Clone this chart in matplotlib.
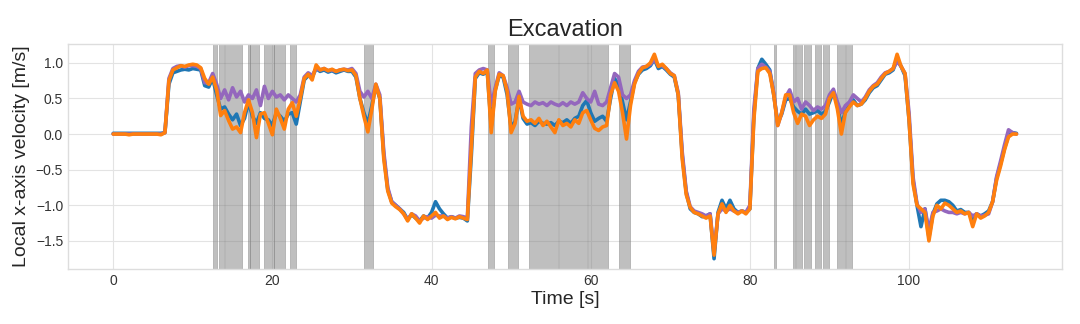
import matplotlib
matplotlib.use("Agg")
import matplotlib.pyplot as plt
import numpy as np

# time axis, 0.5 s sampling
time = np.arange(0, 113.51, 0.5)

# velocity estimates (one row = 10 s)
v_blue = [
    0.01, 0.01, 0.01, 0.01, 0.01, 0.01, 0.01, 0.01, 0.01, 0.01, 0.01, 0.01, 0.01, 0.02, 0.70, 0.86, 0.88, 0.90, 0.91, 0.90,
    0.92, 0.91, 0.90, 0.68, 0.66, 0.78, 0.55, 0.35, 0.38, 0.28, 0.20, 0.28, 0.12, 0.22, 0.45, 0.25, 0.15, 0.30, 0.22, 0.20,
    0.12, 0.30, 0.25, 0.18, 0.28, 0.30, 0.14, 0.45, 0.76, 0.82, 0.80, 0.92, 0.88, 0.90, 0.87, 0.89, 0.86, 0.88, 0.90, 0.88,
    0.88, 0.80, 0.50, 0.30, 0.14, 0.40, 0.68, 0.50, -0.30, -0.78, -0.95, -1.00, -1.05, -1.10, -1.20, -1.13, -1.18, -1.22, -1.15, -1.18,
    -1.10, -0.95, -1.05, -1.12, -1.18, -1.16, -1.18, -1.17, -1.18, -1.22, -0.30, 0.78, 0.86, 0.84, 0.88, 0.10, 0.62, 0.82, 0.80, 0.55,
    0.08, 0.18, 0.50, 0.22, 0.14, 0.16, 0.12, 0.18, 0.15, 0.14, 0.16, 0.12, 0.18, 0.16, 0.20, 0.15, 0.22, 0.25, 0.40, 0.47,
    0.30, 0.18, 0.22, 0.25, 0.18, 0.50, 0.78, 0.70, 0.45, 0.20, 0.45, 0.72, 0.84, 0.90, 0.92, 0.96, 1.05, 0.92, 0.95, 0.90,
    0.84, 0.80, 0.55, -0.30, -0.82, -1.05, -1.10, -1.12, -1.16, -1.15, -1.12, -1.75, -1.10, -0.93, -1.05, -0.93, -1.05, -1.10, -1.08, -1.10,
    -1.05, 0.25, 0.92, 1.05, 0.98, 0.90, 0.55, 0.16, 0.28, 0.48, 0.50, 0.38, 0.32, 0.28, 0.35, 0.28, 0.30, 0.33, 0.28, 0.32,
    0.45, 0.60, 0.40, 0.12, 0.32, 0.40, 0.48, 0.40, 0.42, 0.48, 0.58, 0.65, 0.68, 0.76, 0.84, 0.86, 0.90, 1.05, 0.95, 0.82,
    0.20, -0.65, -1.00, -1.30, -1.05, -1.45, -1.12, -0.98, -0.93, -0.93, -0.95, -1.00, -1.08, -1.06, -1.10, -1.10, -1.22, -1.12, -1.15, -1.12,
    -1.08, -0.95, -0.62, -0.42, -0.20, -0.02, 0.02, 0.01,
]

v_purple = [
    0.00, 0.00, 0.00, 0.00, 0.00, 0.00, 0.00, 0.00, 0.00, 0.00, 0.00, 0.00, 0.00, 0.02, 0.78, 0.92, 0.95, 0.96, 0.94, 0.96,
    0.96, 0.95, 0.92, 0.72, 0.72, 0.85, 0.70, 0.50, 0.62, 0.48, 0.65, 0.52, 0.60, 0.45, 0.55, 0.50, 0.62, 0.40, 0.67, 0.50,
    0.60, 0.52, 0.55, 0.48, 0.55, 0.50, 0.45, 0.55, 0.80, 0.86, 0.82, 0.92, 0.90, 0.92, 0.89, 0.90, 0.88, 0.90, 0.91, 0.90,
    0.92, 0.85, 0.60, 0.52, 0.60, 0.50, 0.70, 0.55, -0.25, -0.75, -0.95, -1.00, -1.05, -1.12, -1.20, -1.12, -1.15, -1.22, -1.18, -1.16,
    -1.18, -1.14, -1.15, -1.15, -1.18, -1.16, -1.18, -1.15, -1.16, -1.18, 0.10, 0.85, 0.90, 0.92, 0.90, 0.40, 0.65, 0.86, 0.82, 0.65,
    0.42, 0.45, 0.60, 0.45, 0.42, 0.40, 0.45, 0.42, 0.44, 0.40, 0.45, 0.42, 0.40, 0.44, 0.40, 0.45, 0.42, 0.45, 0.58, 0.50,
    0.45, 0.60, 0.42, 0.40, 0.45, 0.65, 0.85, 0.80, 0.55, 0.50, 0.55, 0.75, 0.88, 0.94, 0.95, 0.98, 1.05, 0.96, 0.96, 0.92,
    0.86, 0.82, 0.58, -0.25, -0.80, -1.02, -1.08, -1.10, -1.12, -1.15, -1.12, -1.65, -1.12, -1.05, -1.08, -1.05, -1.08, -1.10, -1.08, -1.10,
    -1.00, 0.35, 0.92, 0.98, 0.94, 0.88, 0.58, 0.12, 0.30, 0.52, 0.62, 0.45, 0.50, 0.35, 0.45, 0.40, 0.33, 0.38, 0.35, 0.40,
    0.55, 0.63, 0.45, 0.30, 0.40, 0.45, 0.55, 0.50, 0.45, 0.52, 0.62, 0.68, 0.72, 0.80, 0.86, 0.88, 0.92, 1.02, 0.95, 0.85,
    0.30, -0.60, -0.98, -1.10, -1.05, -1.35, -1.10, -1.08, -1.05, -1.08, -1.10, -1.10, -1.12, -1.10, -1.12, -1.10, -1.15, -1.12, -1.15, -1.14,
    -1.12, -0.95, -0.60, -0.38, -0.15, 0.06, 0.02, 0.00,
]

v_orange = [
    0.00, 0.00, 0.00, 0.00, -0.01, 0.00, 0.00, 0.00, 0.00, 0.00, 0.00, 0.00, -0.01, 0.02, 0.75, 0.90, 0.93, 0.96, 0.95, 0.97,
    0.98, 0.97, 0.93, 0.78, 0.70, 0.80, 0.62, 0.26, 0.33, 0.19, 0.07, 0.10, 0.02, 0.30, 0.48, 0.30, -0.05, 0.28, 0.30, 0.15,
    -0.01, 0.35, 0.22, 0.07, 0.35, 0.44, 0.25, 0.50, 0.78, 0.84, 0.76, 0.97, 0.90, 0.92, 0.89, 0.91, 0.88, 0.90, 0.91, 0.89,
    0.90, 0.82, 0.50, 0.25, 0.03, 0.35, 0.70, 0.50, -0.35, -0.80, -0.97, -1.02, -1.06, -1.12, -1.22, -1.12, -1.18, -1.25, -1.15, -1.20,
    -1.15, -1.10, -1.18, -1.15, -1.20, -1.17, -1.19, -1.16, -1.18, -1.20, -0.20, 0.80, 0.88, 0.85, 0.90, 0.02, 0.60, 0.84, 0.82, 0.60,
    0.02, 0.15, 0.53, 0.25, 0.18, 0.20, 0.15, 0.22, 0.12, 0.18, 0.10, 0.02, 0.20, 0.12, 0.15, 0.10, 0.20, 0.15, 0.30, 0.33,
    0.20, 0.08, 0.05, 0.10, 0.12, 0.55, 0.72, 0.60, 0.30, -0.07, 0.40, 0.70, 0.85, 0.93, 0.95, 1.00, 1.12, 0.95, 0.98, 0.92,
    0.85, 0.82, 0.55, -0.35, -0.85, -1.03, -1.10, -1.12, -1.15, -1.18, -1.15, -1.70, -1.12, -0.98, -1.10, -1.00, -1.08, -1.12, -1.08, -1.12,
    -1.05, 0.20, 0.88, 0.92, 0.93, 0.85, 0.55, 0.12, 0.30, 0.55, 0.55, 0.30, 0.15, 0.28, 0.25, 0.12, 0.20, 0.25, 0.22, 0.28,
    0.50, 0.58, 0.35, 0.00, 0.30, 0.38, 0.45, 0.40, 0.42, 0.50, 0.60, 0.67, 0.70, 0.78, 0.85, 0.88, 0.92, 1.12, 0.95, 0.85,
    0.20, -0.70, -1.00, -1.05, -1.10, -1.50, -1.15, -1.00, -1.05, -0.97, -1.00, -1.05, -1.10, -1.08, -1.12, -1.10, -1.30, -1.12, -1.18, -1.15,
    -1.10, -0.95, -0.65, -0.45, -0.22, -0.04, 0.00, 0.00,
]

# shaded intervals (start, end) in seconds
span_start = [12.58, 13.33, 14.0, 16.97, 17.25, 18.93, 20.25, 22.2, 31.5, 47.15, 49.65,
              52.2, 56.05, 59.6, 63.6, 83.0, 85.4, 85.75, 86.8, 88.15, 89.2, 90.9, 92.1]
span_end = [13.0, 13.95, 16.14, 17.2, 18.35, 20.2, 21.58, 23.0, 32.65, 47.8, 50.9,
            55.9, 59.5, 62.2, 64.9, 83.26, 85.7, 86.6, 87.7, 88.9, 89.9, 92.0, 92.8]

plt.style.use("seaborn-v0_8-whitegrid")
plt.rcParams["font.family"] = ["Liberation Sans", "DejaVu Sans"]

fig, ax = plt.subplots(figsize=(10.8, 3.24), dpi=100)
fig.subplots_adjust(left=0.063, right=0.983, top=0.864, bottom=0.17)

for s, e in zip(span_start, span_end):
    ax.axvspan(s, e, color="grey", alpha=0.5, lw=0.6)

ax.plot(time, v_blue, color="tab:blue", lw=2.6)
ax.plot(time, v_purple, color="tab:purple", lw=2.6)
ax.plot(time, v_orange, color="tab:orange", lw=2.6)

ax.set_title("Excavation", fontsize=17)
ax.set_xlabel("Time [s]", fontsize=14, labelpad=2)
ax.set_ylabel("Local x-axis velocity [m/s]", fontsize=14)
ax.tick_params(labelsize=10, labelcolor="#333333")
ax.grid(color="#e3e3e3")
for sp in ax.spines.values():
    sp.set_visible(True)
    sp.set_color("#dddddd")

fig.savefig("out.png")
